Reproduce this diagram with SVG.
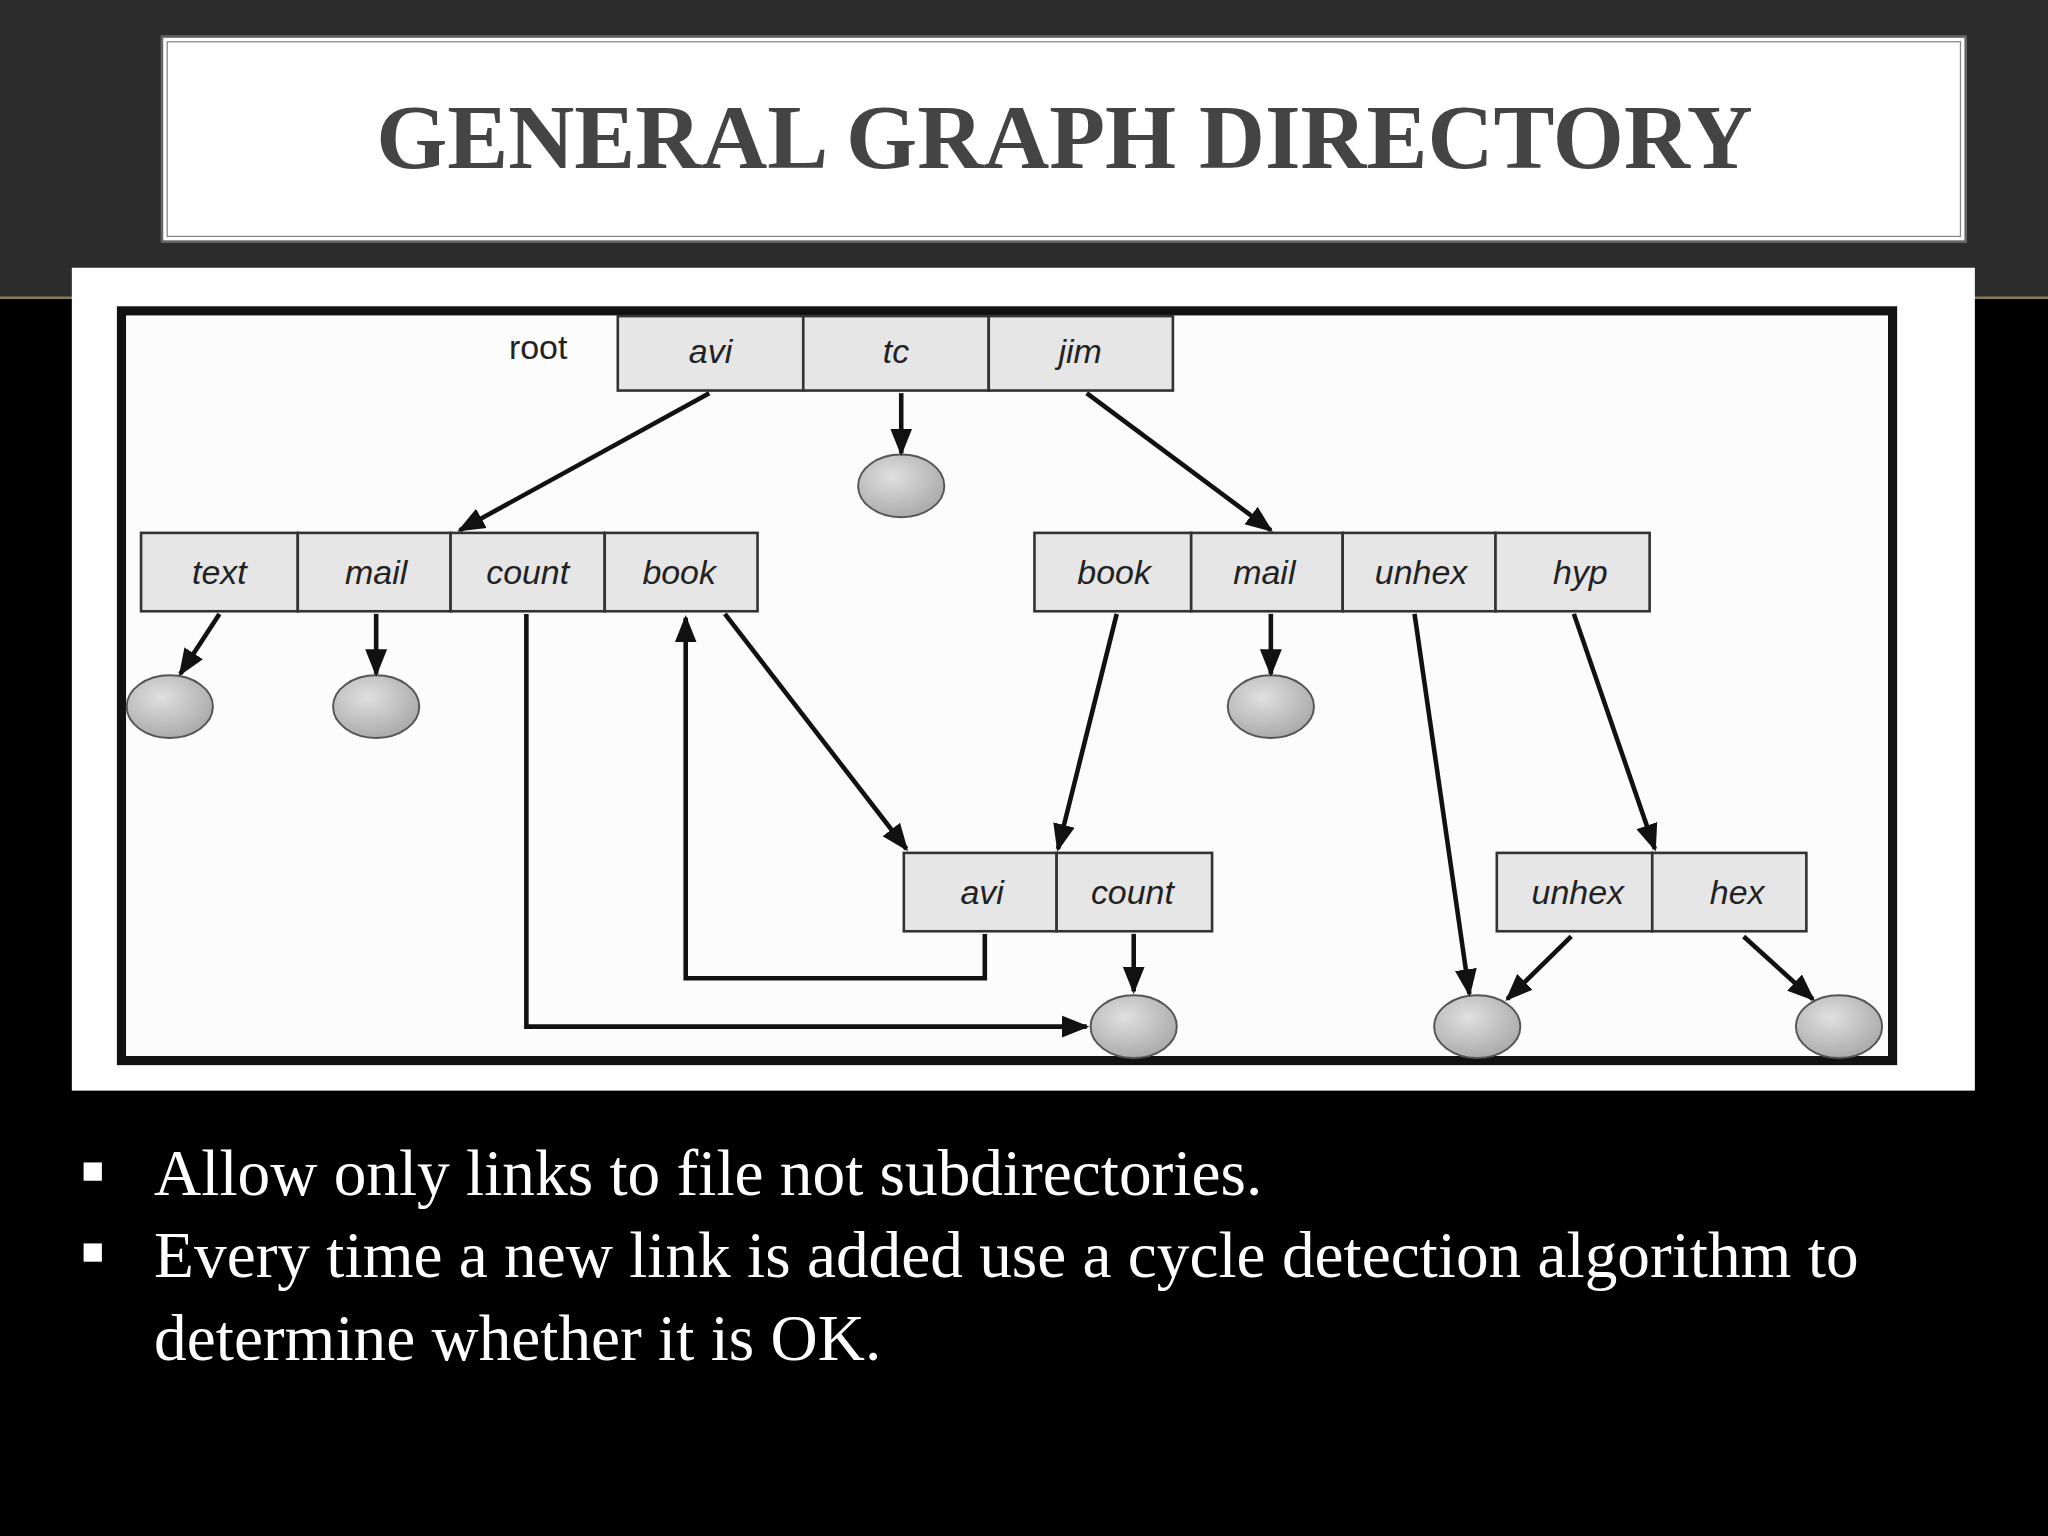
<svg xmlns="http://www.w3.org/2000/svg" width="2048" height="1536" viewBox="0 0 2048 1536">
<defs>
<marker id="ah" viewBox="0 0 10 10" refX="9" refY="5" markerWidth="6" markerHeight="6" orient="auto-start-reverse" markerUnits="strokeWidth"><path d="M0,1 L10,5 L0,9 z" fill="#111"/></marker>
<radialGradient id="ball" cx="0.4" cy="0.35" r="0.7"><stop offset="0" stop-color="#e0e0e0"/><stop offset="1" stop-color="#a8a8a8"/></radialGradient>
</defs>
<style>
.cell{fill:#e6e6e6;stroke:#333;stroke-width:2}
.lbl{font-family:"Liberation Sans",Arial,sans-serif;font-style:italic;font-size:26px;fill:#222;text-anchor:middle}
.ball{fill:url(#ball);stroke:#555;stroke-width:1.5}
.con{fill:none;stroke:#111;stroke-width:3.5;marker-end:url(#ah)}
.bul{font-family:"Liberation Serif","Times New Roman",serif;font-size:50px;fill:#fff}
</style>
<g transform="scale(1.30612)">
<rect x="0" y="0" width="1568" height="1176" fill="#000"/>
<rect x="0" y="0" width="1568" height="228" fill="#2c2c2c"/>
<line x1="0" y1="228" x2="1568" y2="228" stroke="#8a7a5a" stroke-width="2"/>
<g id="title">
<rect x="124" y="28" width="1381" height="157" fill="#fff" stroke="#666" stroke-width="2"/>
<rect x="128" y="32" width="1373" height="149" fill="none" stroke="#888" stroke-width="1"/>
<text x="815" y="129" font-family="Liberation Serif,'Times New Roman',serif" font-weight="bold" font-size="70" fill="#444" text-anchor="middle">GENERAL GRAPH DIRECTORY</text>
</g>
<rect x="55" y="205" width="1457" height="630" fill="#fff"/>
<rect x="93" y="238" width="1356" height="574" fill="#fcfcfc" stroke="#111" stroke-width="7"/>
<g id="root">
<text x="412" y="275" font-family="Liberation Sans,Arial,sans-serif" font-size="26" fill="#222" text-anchor="middle">root</text>
<rect class="cell" x="473" y="242" width="142" height="57"/><text class="lbl" x="544" y="278">avi</text>
<rect class="cell" x="615" y="242" width="142" height="57"/><text class="lbl" x="686" y="278">tc</text>
<rect class="cell" x="757" y="242" width="141" height="57"/><text class="lbl" x="827" y="278">jim</text>
</g>
<g id="avidir">
<rect class="cell" x="108" y="408" width="120" height="60"/><text class="lbl" x="168" y="447">text</text>
<rect class="cell" x="228" y="408" width="117" height="60"/><text class="lbl" x="288" y="447">mail</text>
<rect class="cell" x="345" y="408" width="118" height="60"/><text class="lbl" x="404" y="447">count</text>
<rect class="cell" x="463" y="408" width="117" height="60"/><text class="lbl" x="520" y="447">book</text>
</g>
<g id="jimdir">
<rect class="cell" x="792" y="408" width="120" height="60"/><text class="lbl" x="853" y="447">book</text>
<rect class="cell" x="912" y="408" width="116" height="60"/><text class="lbl" x="968" y="447">mail</text>
<rect class="cell" x="1028" y="408" width="117" height="60"/><text class="lbl" x="1088" y="447">unhex</text>
<rect class="cell" x="1145" y="408" width="118" height="60"/><text class="lbl" x="1210" y="447">hyp</text>
</g>
<g id="bookdir">
<rect class="cell" x="692" y="653" width="117" height="60"/><text class="lbl" x="752" y="692">avi</text>
<rect class="cell" x="809" y="653" width="119" height="60"/><text class="lbl" x="867" y="692">count</text>
</g>
<g id="hypdir">
<rect class="cell" x="1146" y="653" width="119" height="60"/><text class="lbl" x="1208" y="692">unhex</text>
<rect class="cell" x="1265" y="653" width="118" height="60"/><text class="lbl" x="1330" y="692">hex</text>
</g>
<g id="files">
<ellipse class="ball" cx="690" cy="372" rx="33" ry="24"/>
<ellipse class="ball" cx="130" cy="541" rx="33" ry="24"/>
<ellipse class="ball" cx="288" cy="541" rx="33" ry="24"/>
<ellipse class="ball" cx="973" cy="541" rx="33" ry="24"/>
<ellipse class="ball" cx="868" cy="786" rx="33" ry="24"/>
<ellipse class="ball" cx="1131" cy="786" rx="33" ry="24"/>
<ellipse class="ball" cx="1408" cy="786" rx="33" ry="24"/>
</g>
<g id="connectors">
<path class="con" d="M543,301 L352,406"/>
<path class="con" d="M690,301 L690,347"/>
<path class="con" d="M832,301 L973,406"/>
<path class="con" d="M168,470 L138,516"/>
<path class="con" d="M288,470 L288,516"/>
<path class="con" d="M403,470 L403,786 L832,786"/>
<path class="con" d="M555,470 L694,650"/>
<path class="con" d="M754,715 L754,749 L525,749 L525,473"/>
<path class="con" d="M855,470 L810,650"/>
<path class="con" d="M973,470 L973,516"/>
<path class="con" d="M1083,470 L1125,761"/>
<path class="con" d="M1205,470 L1267,650"/>
<path class="con" d="M868,715 L868,759"/>
<path class="con" d="M1203,717 L1154,765"/>
<path class="con" d="M1335,717 L1388,765"/>
</g>
<g id="bullets">
<rect x="64" y="890" width="14" height="14" fill="#fff"/>
<rect x="64" y="952" width="14" height="14" fill="#fff"/>
<text class="bul" x="118" y="915">Allow only links to file not subdirectories.</text>
<text class="bul" x="118" y="978">Every time a new link is added use a cycle detection algorithm to</text>
<text class="bul" x="118" y="1041">determine whether it is OK.</text>
</g>
</g>
</svg>
